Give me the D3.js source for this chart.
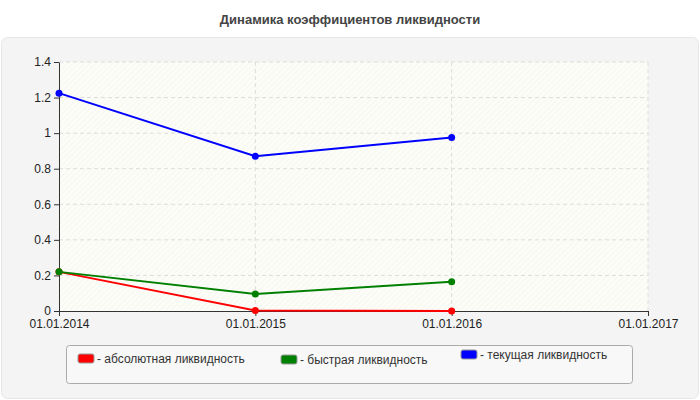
<!DOCTYPE html>
<html><head><meta charset="utf-8">
<script src="https://cdn.jsdelivr.net/npm/d3@7"></script>
<style>body{margin:0;background:#fff}svg{font-family:Arial,"Liberation Sans",sans-serif}</style>
</head><body><svg id="chart" width="700" height="400"></svg>
<script>
var dates = ["01.01.2014", "01.01.2015", "01.01.2016"];
var xTicks = ["01.01.2014", "01.01.2015", "01.01.2016", "01.01.2017"];
var yTicks = [0, 0.2, 0.4, 0.6, 0.8, 1, 1.2, 1.4];
var absolute = [0.22, 0.003, 0.0];
var quick = [0.22, 0.095, 0.165];
var current = [1.225, 0.87, 0.975];
var seriesNames = ["- абсолютная ликвидность", "- быстрая ликвидность", "- текущая ликвидность"];
var seriesColors = ["#ff0000", "#008000", "#0000ff"];

var svg = d3.select("#chart");
var mLeft = 59, mRight = 648, mTop = 62, mBottom = 311;

svg.append("text").attr("x", 350).attr("y", 24).attr("text-anchor", "middle")
    .style("font-size", "13px").style("font-weight", "bold").attr("fill", "#444")
    .text("Динамика коэффициентов ликвидности");

svg.append("rect").attr("x", 1.5).attr("y", 37.5).attr("width", 697).attr("height", 361)
    .attr("rx", 6).attr("fill", "#f4f4f4").attr("stroke", "#e6e6e6");

var defs = svg.append("defs");
var pat = defs.append("pattern").attr("id", "hatch").attr("width", 4).attr("height", 4)
    .attr("patternUnits", "userSpaceOnUse").attr("patternTransform", "rotate(45)");
pat.append("rect").attr("width", 4).attr("height", 4).attr("fill", "#fdfdf8");
pat.append("line").attr("x1", 0).attr("y1", 0).attr("x2", 0).attr("y2", 4)
    .attr("stroke", "#f0f0ec").attr("stroke-width", 1);

var x = d3.scalePoint().domain(xTicks).range([mLeft, mRight]);
var y = d3.scaleLinear().domain([0, 1.4]).range([mBottom, mTop]);

svg.append("rect").attr("x", mLeft).attr("y", mTop).attr("width", mRight - mLeft)
    .attr("height", mBottom - mTop).attr("fill", "url(#hatch)");

svg.append("g").selectAll("line").data(yTicks.slice(1)).join("line")
    .attr("x1", mLeft).attr("x2", mRight).attr("y1", d => y(d)).attr("y2", d => y(d))
    .attr("stroke", "#dcdcdc").attr("stroke-dasharray", "4,3");
svg.append("g").selectAll("line").data(xTicks.slice(1)).join("line")
    .attr("y1", mTop).attr("y2", mBottom).attr("x1", d => x(d)).attr("x2", d => x(d))
    .attr("stroke", "#dcdcdc").attr("stroke-dasharray", "4,3");

var xAxis = svg.append("g").attr("transform", "translate(0," + mBottom + ")")
    .call(d3.axisBottom(x).tickSize(5).tickSizeOuter(0));
var yAxis = svg.append("g").attr("transform", "translate(" + mLeft + ",0)")
    .call(d3.axisLeft(y).tickValues(yTicks).tickSize(5).tickSizeOuter(0).tickFormat(d3.format("")));
[xAxis, yAxis].forEach(function (a) {
    a.select(".domain").attr("stroke", "#333");
    a.selectAll(".tick line").attr("stroke", "#333");
    a.selectAll("text").style("font-size", "12px").attr("fill", "#222");
});

[absolute, quick, current].forEach(function (vals, i) {
    var pts = vals.map((v, j) => [x(dates[j]), y(v)]);
    svg.append("path").attr("d", d3.line()(pts)).attr("fill", "none")
        .attr("stroke", seriesColors[i]).attr("stroke-width", 2);
    svg.append("g").selectAll("circle").data(pts).join("circle")
        .attr("cx", d => d[0]).attr("cy", d => d[1]).attr("r", 3.5).attr("fill", seriesColors[i]);
});

svg.append("rect").attr("x", 66.5).attr("y", 345.5).attr("width", 566).attr("height", 38)
    .attr("rx", 3).attr("fill", "#f8f8f8").attr("stroke", "#aaa");
var legX = [78, 281, 461];
var legY = [360, 361, 356];
seriesNames.forEach(function (n, i) {
    svg.append("rect").attr("x", legX[i]).attr("y", legY[i] - 6).attr("width", 16).attr("height", 9)
        .attr("rx", 2).attr("fill", seriesColors[i]).attr("stroke", "#999");
    svg.append("text").attr("x", legX[i] + 19).attr("y", legY[i] + 3)
        .style("font-size", "12px").attr("fill", "#333").text(n);
});
</script></body></html>
